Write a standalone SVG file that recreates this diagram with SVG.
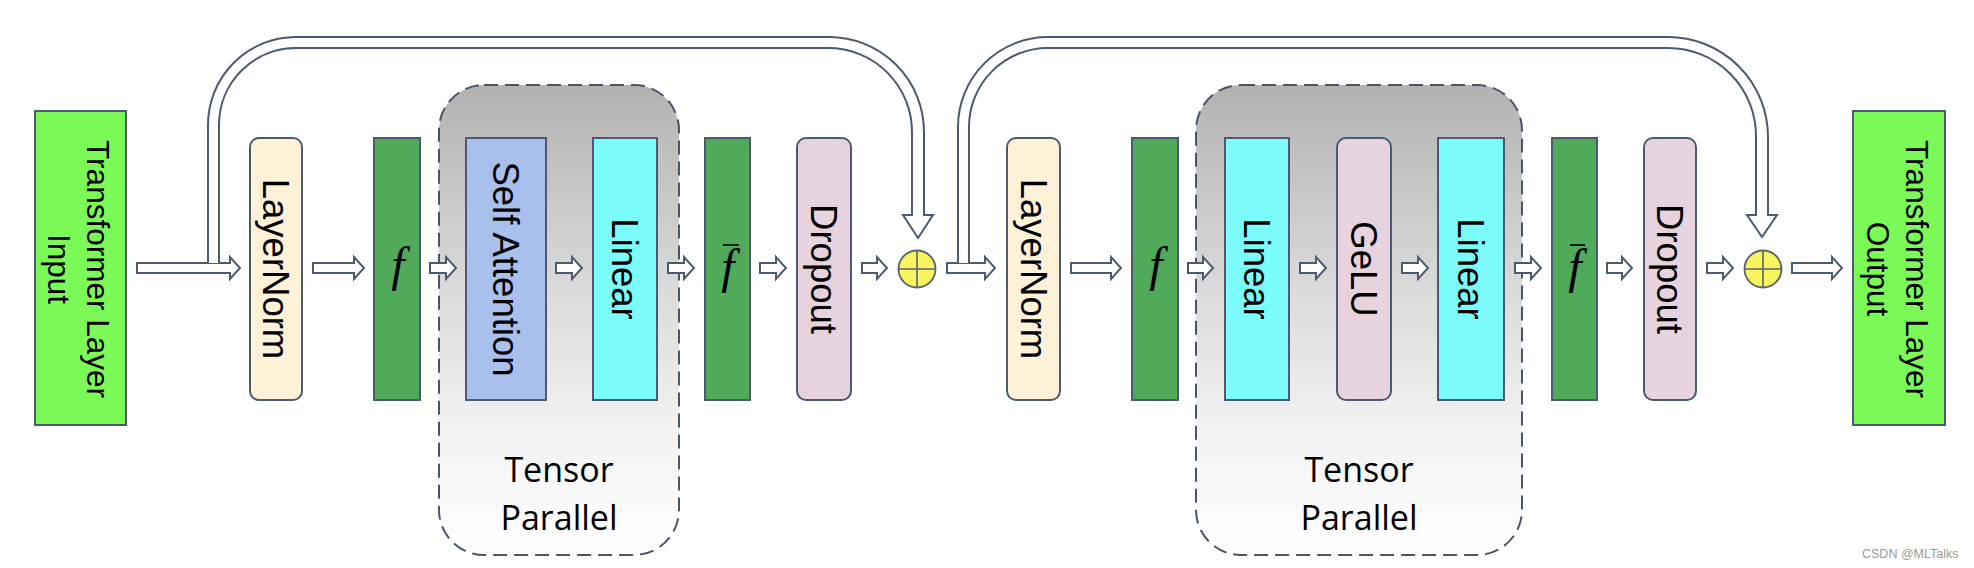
<svg xmlns="http://www.w3.org/2000/svg" width="1974" height="568" viewBox="0 0 1974 568">
<defs>
<linearGradient id="tpg" x1="0" y1="0" x2="0" y2="1">
<stop offset="0" stop-color="#B2B2B2"/>
<stop offset="0.45" stop-color="#DCDCDC"/>
<stop offset="0.75" stop-color="#F3F3F3"/>
<stop offset="1" stop-color="#FFFFFF"/>
</linearGradient>
</defs>
<style>
.tp{fill:url(#tpg);stroke:#4A5568;stroke-width:2;stroke-dasharray:14 7}
.tpt{font-family:"Open Sans",sans-serif;font-size:34px;fill:#000;text-anchor:middle}
.box{stroke:#4B5A6E;stroke-width:2}
.io{fill:#7BFA57}
.ln{fill:#FDF1D8}
.fg{fill:#51A95A}
.sa{fill:#A9C0EC}
.li{fill:#7CFBFB}
.dr{fill:#E6D3DE}
.lbl{font-family:"Liberation Sans",Arial,sans-serif;font-size:36.5px;fill:#000;text-anchor:middle}
.iol{font-family:"Liberation Sans",Arial,sans-serif;font-size:31.5px;fill:#000;text-anchor:middle}
.fx{font-family:"Liberation Serif","Times New Roman",serif;font-style:italic;font-size:48px;fill:#000;text-anchor:middle}
.bar{stroke:#000;stroke-width:1.6}
.plus{fill:#F8F55E;stroke:#5A6272;stroke-width:1.8}
.pl{stroke:#5A6272;stroke-width:1.6}
.arr{fill:#FFFFFF;stroke:#4B5A6E;stroke-width:2;stroke-linejoin:miter}
.wm{font-family:"Liberation Sans",Arial,sans-serif;font-size:12.5px;fill:#9A9A9A}
</style>
<rect width="1974" height="568" fill="#FFFFFF"/>

<g id="tp1">
<rect class="tp" x="439" y="85" width="240" height="470" rx="45" ry="45"/>
<text class="tpt" x="559" y="482">Tensor</text>
<text class="tpt" x="559" y="530">Parallel</text>
</g>
<g id="tp2">
<rect class="tp" x="1196" y="85" width="326" height="470" rx="45" ry="45"/>
<text class="tpt" x="1359" y="482">Tensor</text>
<text class="tpt" x="1359" y="530">Parallel</text>
</g>

<g id="input">
<rect class="box io" x="35" y="111" width="91" height="314"/>
<text class="iol" transform="translate(87,269) rotate(90)">Transformer Layer</text>
<text class="iol" transform="translate(48,269) rotate(90)">Input</text>
</g>
<g id="layernorm1">
<rect class="box ln" x="250" y="138" width="52" height="262" rx="9" ry="9"/>
<text class="lbl" transform="translate(263,269) rotate(90)">LayerNorm</text>
</g>
<g id="f1">
<rect class="box fg" x="374" y="138" width="46" height="262"/>
<text class="fx" x="398" y="281">f</text>
</g>
<g id="selfattention">
<rect class="box sa" x="466" y="138" width="80" height="262"/>
<text class="lbl" transform="translate(493,269) rotate(90)">Self Attention</text>
</g>
<g id="linear1">
<rect class="box li" x="593" y="138" width="64" height="262"/>
<text class="lbl" transform="translate(612,269) rotate(90)">Linear</text>
</g>
<g id="fbar1">
<rect class="box fg" x="705" y="138" width="45" height="262"/>
<text class="fx" x="728" y="283">f</text>
<line class="bar" x1="723" y1="245" x2="739" y2="245"/>
</g>
<g id="dropout1">
<rect class="box dr" x="797" y="138" width="54" height="262" rx="9" ry="9"/>
<text class="lbl" transform="translate(811,269) rotate(90)">Dropout</text>
</g>
<g id="add1">
<circle class="plus" cx="917" cy="269" r="18.5"/>
<line class="pl" x1="898.5" y1="269" x2="935.5" y2="269"/>
<line class="pl" x1="917" y1="250.5" x2="917" y2="287.5"/>
</g>
<g id="layernorm2">
<rect class="box ln" x="1007" y="138" width="53" height="262" rx="9" ry="9"/>
<text class="lbl" transform="translate(1020.5,269) rotate(90)">LayerNorm</text>
</g>
<g id="f2">
<rect class="box fg" x="1132" y="138" width="46" height="262"/>
<text class="fx" x="1156" y="281">f</text>
</g>
<g id="linear2">
<rect class="box li" x="1225" y="138" width="64" height="262"/>
<text class="lbl" transform="translate(1244,269) rotate(90)">Linear</text>
</g>
<g id="gelu">
<rect class="box dr" x="1337" y="138" width="54" height="262" rx="9" ry="9"/>
<text class="lbl" transform="translate(1351,269) rotate(90)">GeLU</text>
</g>
<g id="linear3">
<rect class="box li" x="1438" y="138" width="66" height="262"/>
<text class="lbl" transform="translate(1458,269) rotate(90)">Linear</text>
</g>
<g id="fbar2">
<rect class="box fg" x="1552" y="138" width="45" height="262"/>
<text class="fx" x="1575" y="283">f</text>
<line class="bar" x1="1570" y1="245" x2="1585" y2="245"/>
</g>
<g id="dropout2">
<rect class="box dr" x="1644" y="138" width="52" height="262" rx="9" ry="9"/>
<text class="lbl" transform="translate(1657,269) rotate(90)">Dropout</text>
</g>
<g id="add2">
<circle class="plus" cx="1763" cy="269" r="18.5"/>
<line class="pl" x1="1744.5" y1="269" x2="1781.5" y2="269"/>
<line class="pl" x1="1763" y1="250.5" x2="1763" y2="287.5"/>
</g>
<g id="output">
<rect class="box io" x="1853" y="111" width="92" height="314"/>
<text class="iol" transform="translate(1906,269) rotate(90)">Transformer Layer</text>
<text class="iol" transform="translate(1867,269) rotate(90)">Output</text>
</g>

<g id="connectors">
<polygon class="arr" points="137,263 230,263 230,257 240,268 230,279 230,273 137,273"/>
<polygon class="arr" points="313,263 354,263 354,257 364,268 354,279 354,273 313,273"/>
<polygon class="arr" points="430,263 446,263 446,257 456,268 446,279 446,273 430,273"/>
<polygon class="arr" points="556,263 572,263 572,257 582,268 572,279 572,273 556,273"/>
<polygon class="arr" points="668,263 684,263 684,257 694,268 684,279 684,273 668,273"/>
<polygon class="arr" points="760,263 776,263 776,257 786,268 776,279 776,273 760,273"/>
<polygon class="arr" points="862,263 877,263 877,257 887,268 877,279 877,273 862,273"/>
<polygon class="arr" points="947,263 985,263 985,257 995,268 985,279 985,273 947,273"/>
<polygon class="arr" points="1071,263 1111,263 1111,257 1121,268 1111,279 1111,273 1071,273"/>
<polygon class="arr" points="1188,263 1203,263 1203,257 1213,268 1203,279 1203,273 1188,273"/>
<polygon class="arr" points="1300,263 1316,263 1316,257 1326,268 1316,279 1316,273 1300,273"/>
<polygon class="arr" points="1402,263 1418,263 1418,257 1428,268 1418,279 1418,273 1402,273"/>
<polygon class="arr" points="1515,263 1531,263 1531,257 1541,268 1531,279 1531,273 1515,273"/>
<polygon class="arr" points="1607,263 1622,263 1622,257 1632,268 1622,279 1622,273 1607,273"/>
<polygon class="arr" points="1707,263 1723,263 1723,257 1733,268 1723,279 1723,273 1707,273"/>
<polygon class="arr" points="1792,263 1832,263 1832,257 1842,268 1832,279 1832,273 1792,273"/>
<path class="arr" d="M208,263 V125 A88,88 0 0 1 296,37 H829 A95,95 0 0 1 924,132 V215 H933 L918,238 L903,215 H912 V132 A84,84 0 0 0 828,48 H296 A77,77 0 0 0 219,125 V263"/>
<path class="arr" d="M958,263 V127 A90,90 0 0 1 1048,37 H1668 A100,100 0 0 1 1768,137 V215 H1777 L1762,237 L1747,215 H1756 V136 A88,88 0 0 0 1668,48 H1048 A79,79 0 0 0 969,127 V263"/>
</g>

<text class="wm" x="1862" y="558">CSDN @MLTalks</text>
</svg>
